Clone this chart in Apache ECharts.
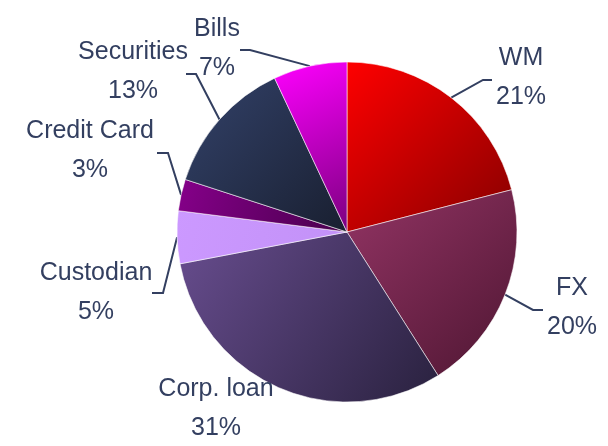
<!DOCTYPE html>
<html>
<head>
<meta charset="utf-8">
<script src="https://cdn.jsdelivr.net/npm/echarts@6/dist/echarts.min.js"></script>
<style>
  html, body { margin: 0; padding: 0; background: #fff; }
  #chart { width: 608px; height: 446px; }
</style>
</head>
<body>
<div id="chart"></div>
<script>
const categories = ['WM', 'FX', 'Corp. loan', 'Custodian', 'Credit Card', 'Securities', 'Bills'];
const shares = [21, 20, 31, 5, 3, 13, 7];

// slice gradients: top-left colour, bottom-right colour
const sliceColors = [
  ['#ff0000', '#850000'],
  ['#933464', '#4e1632'],
  ['#684d8f', '#29213e'],
  ['#cc99ff', '#c291f7'],
  ['#86008a', '#48004c'],
  ['#33426a', '#191f30'],
  ['#ff00ff', '#7a007e'],
];

// label centre and leader line elbow/end (pixels)
const labelSpots = [
  { x: 521, y: 78, elbow: [483, 80], end: [492, 80] },
  { x: 572, y: 308, elbow: [533, 310], end: [543, 310] },
  { x: 216, y: 409, elbow: null, end: null },
  { x: 96, y: 293, elbow: [163, 293], end: [152, 293] },
  { x: 90, y: 151, elbow: [168, 153], end: [157, 153] },
  { x: 133, y: 72, elbow: [196, 74], end: [186, 74] },
  { x: 217, y: 49, elbow: [250, 50], end: [240, 50] },
];

const textColor = '#333f60';

const chart = echarts.init(document.getElementById('chart'));

chart.setOption({
  animation: false,
  series: [
    {
      type: 'pie',
      center: [347, 232],
      radius: 170,
      startAngle: 90,
      clockwise: true,
      itemStyle: {
        borderColor: 'rgba(255,255,255,0.55)',
        borderWidth: 1,
      },
      label: {
        show: true,
        formatter: '{b}\n{c}%',
        color: textColor,
        fontFamily: '"Liberation Sans", Arial, sans-serif',
        fontSize: 25,
        lineHeight: 39,
        align: 'center',
        overflow: 'none',
      },
      labelLine: {
        show: true,
        length: 20,
        length2: 10,
        lineStyle: { color: textColor, width: 2 },
      },
      labelLayout: function (params) {
        const spot = labelSpots[params.dataIndex];
        const out = { x: spot.x, y: spot.y, align: 'center', verticalAlign: 'middle' };
        if (spot.elbow && params.labelLinePoints) {
          out.labelLinePoints = [params.labelLinePoints[0], spot.elbow, spot.end];
        }
        return out;
      },
      data: categories.map(function (name, i) {
        return {
          name: name,
          value: shares[i],
          labelLine: { show: labelSpots[i].elbow !== null },
          itemStyle: {
            color: {
              type: 'linear',
              x: 0, y: 0, x2: 1, y2: 1,
              colorStops: [
                { offset: 0, color: sliceColors[i][0] },
                { offset: 1, color: sliceColors[i][1] },
              ],
            },
          },
        };
      }),
    },
  ],
});
</script>
</body>
</html>
